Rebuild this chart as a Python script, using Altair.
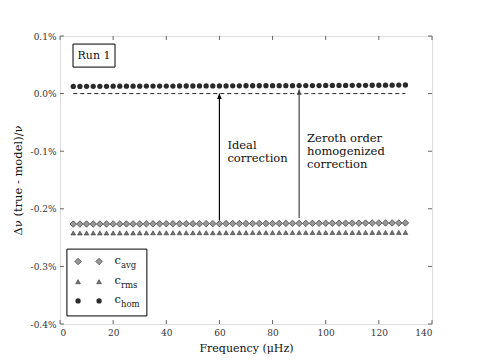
import altair as alt
import pandas as pd

freq = [5, 7.5, 10, 12.5, 15, 17.5, 20, 22.5, 25, 27.5,
        30, 32.5, 35, 37.5, 40, 42.5, 45, 47.5, 50, 52.5,
        55, 57.5, 60, 62.5, 65, 67.5, 70, 72.5, 75, 77.5,
        80, 82.5, 85, 87.5, 90, 92.5, 95, 97.5, 100, 102.5,
        105, 107.5, 110, 112.5, 115, 117.5, 120, 122.5, 125, 127.5, 130]

c_hom = [0.0125, 0.0125, 0.0126, 0.0126, 0.0127, 0.0127, 0.0128, 0.0128, 0.0128, 0.0129,
         0.0129, 0.0130, 0.0130, 0.0130, 0.0131, 0.0131, 0.0132, 0.0132, 0.0132, 0.0133,
         0.0133, 0.0134, 0.0134, 0.0134, 0.0135, 0.0135, 0.0136, 0.0136, 0.0136, 0.0137,
         0.0137, 0.0138, 0.0138, 0.0138, 0.0139, 0.0139, 0.0140, 0.0140, 0.0141, 0.0141,
         0.0142, 0.0142, 0.0143, 0.0143, 0.0144, 0.0145, 0.0145, 0.0146, 0.0147, 0.0148, 0.0149]

c_avg = [-0.2265, -0.2265, -0.2264, -0.2264, -0.2264, -0.2263, -0.2263, -0.2263, -0.2262, -0.2262,
         -0.2262, -0.2261, -0.2261, -0.2261, -0.2260, -0.2260, -0.2260, -0.2259, -0.2259, -0.2259,
         -0.2258, -0.2258, -0.2258, -0.2257, -0.2257, -0.2257, -0.2256, -0.2256, -0.2255, -0.2255,
         -0.2255, -0.2254, -0.2254, -0.2253, -0.2253, -0.2253, -0.2252, -0.2252, -0.2251, -0.2251,
         -0.2250, -0.2250, -0.2249, -0.2249, -0.2248, -0.2248, -0.2247, -0.2247, -0.2246, -0.2246, -0.2245]

c_rms = [-0.2420, -0.2420, -0.2420, -0.2419, -0.2419, -0.2419, -0.2419, -0.2418, -0.2418, -0.2418,
         -0.2418, -0.2417, -0.2417, -0.2417, -0.2417, -0.2416, -0.2416, -0.2416, -0.2416, -0.2415,
         -0.2415, -0.2415, -0.2415, -0.2414, -0.2414, -0.2414, -0.2414, -0.2413, -0.2413, -0.2413,
         -0.2413, -0.2413, -0.2412, -0.2412, -0.2412, -0.2412, -0.2412, -0.2411, -0.2411, -0.2411,
         -0.2411, -0.2411, -0.2411, -0.2410, -0.2410, -0.2410, -0.2410, -0.2410, -0.2410, -0.2410, -0.2410]

x_ticks = [0, 20, 40, 60, 80, 100, 120, 140]
y_ticks = [-0.4, -0.3, -0.2, -0.1, 0.0, 0.1]

# annotations (data coordinates)
arrow_x = [60, 90]
arrow_from = [-0.220, -0.216]
arrow_to = [0.0, 0.007]
arrow_color = ["#000000", "#444444"]
arrow_text = ["Ideal\ncorrection", "Zeroth order\nhomogenized\ncorrection"]
arrow_text_x = [63, 93]
arrow_text_y = [-0.097, -0.0845]

legend_labels = ["c", "c", "c"]
legend_subs = ["avg", "rms", "hom"]
legend_y = [-0.2915, -0.3265, -0.360]
legend_mx = [6.8, 14.7]

FONT = "DejaVu Serif"
W, H = 372, 288

xs = alt.Scale(domain=[0, 140], nice=False, zero=False)
ys = alt.Scale(domain=[-0.4, 0.1], nice=False, zero=False)

xaxis = alt.Axis(values=x_ticks, format="d", domain=False, ticks=False, grid=False,
                 labelFont=FONT, labelFontSize=9, labelColor="#333", labelPadding=4,
                 title="Frequency (μHz)", titleFont=FONT, titleFontSize=11,
                 titleFontWeight="normal", titleColor="#111", titlePadding=5)
yaxis = alt.Axis(values=y_ticks, domain=False, ticks=False, grid=False,
                 labelExpr="(datum.value < -0.00001 ? '-' : '') + format(abs(datum.value), '.1f') + '%'",
                 labelFont=FONT, labelFontSize=9, labelColor="#333", labelPadding=4,
                 title="Δν (true - model)/ν", titleFont=FONT, titleFontSize=11.5,
                 titleFontWeight="normal", titleColor="#111", titlePadding=7)

series = pd.DataFrame({"f": freq, "hom": c_hom, "avg": c_avg, "rms": c_rms})

X = alt.X("f:Q", scale=xs, axis=xaxis)

base = alt.Chart(series)

zero_line = base.mark_line(color="#222", strokeWidth=1, strokeDash=[4, 3]).encode(
    x=X, y=alt.Y("z:Q", scale=ys, axis=yaxis)
).transform_calculate(z="0")

hom_pts = base.mark_point(shape="circle", filled=True, color="#2a2a2a", size=28, opacity=1).encode(
    x=X, y=alt.Y("hom:Q", scale=ys, axis=yaxis))
avg_pts = base.mark_point(shape="diamond", filled=True, fill="#999999", stroke="#333333",
                          strokeWidth=0.7, size=42, opacity=1).encode(
    x=X, y=alt.Y("avg:Q", scale=ys, axis=yaxis))
rms_pts = base.mark_point(shape="triangle-up", filled=True, fill="#777777", stroke="#333333",
                          strokeWidth=0.6, size=22, opacity=1).encode(
    x=X, y=alt.Y("rms:Q", scale=ys, axis=yaxis))

arrows = pd.DataFrame({"x": arrow_x, "y1": arrow_from, "y2": arrow_to, "c": arrow_color})
arrow_lines = alt.Chart(arrows).mark_rule(strokeWidth=1.2).encode(
    x=alt.X("x:Q", scale=xs, axis=xaxis),
    y=alt.Y("y1:Q", scale=ys, axis=yaxis), y2="y2:Q",
    color=alt.Color("c:N", scale=None))
arrow_heads = alt.Chart(arrows).mark_point(shape="M0,0 L-0.9,2 L0.9,2 Z", filled=True,
                                           size=28, opacity=1).encode(
    x=alt.X("x:Q", scale=xs, axis=xaxis),
    y=alt.Y("y2:Q", scale=ys, axis=yaxis),
    color=alt.Color("c:N", scale=None))

texts = pd.DataFrame({"x": arrow_text_x, "y": arrow_text_y, "t": arrow_text})
arrow_texts = alt.Chart(texts).mark_text(align="left", baseline="alphabetic", font=FONT,
                                         fontSize=11.5, lineBreak="\n", lineHeight=12.8,
                                         color="#111").encode(
    x=alt.X("x:Q", scale=xs, axis=xaxis),
    y=alt.Y("y:Q", scale=ys, axis=yaxis),
    text="t:N")

# Run 1 box
run_box = alt.Chart(pd.DataFrame({"x1": [4.9], "x2": [20.7], "y1": [0.086], "y2": [0.046]})).mark_rect(
    fill="white", stroke="black", strokeWidth=1).encode(
    x=alt.X("x1:Q", scale=xs, axis=xaxis), x2="x2:Q",
    y=alt.Y("y1:Q", scale=ys, axis=yaxis), y2="y2:Q")
run_text = alt.Chart(pd.DataFrame({"x": [12.8], "y": [0.066], "t": ["Run 1"]})).mark_text(
    font=FONT, fontSize=11, baseline="middle", align="center", color="#111").encode(
    x=alt.X("x:Q", scale=xs, axis=xaxis),
    y=alt.Y("y:Q", scale=ys, axis=yaxis), text="t:N")

# Legend
leg_box = alt.Chart(pd.DataFrame({"x1": [2.6], "x2": [32.7], "y1": [-0.270], "y2": [-0.386]})).mark_rect(
    fill="white", stroke="black", strokeWidth=1).encode(
    x=alt.X("x1:Q", scale=xs, axis=xaxis), x2="x2:Q",
    y=alt.Y("y1:Q", scale=ys, axis=yaxis), y2="y2:Q")

leg_rows = []
for mx in legend_mx:
    leg_rows.append({"x": mx, "y": legend_y[0], "k": "avg"})
    leg_rows.append({"x": mx, "y": legend_y[1], "k": "rms"})
    leg_rows.append({"x": mx, "y": legend_y[2], "k": "hom"})
leg_df = pd.DataFrame(leg_rows)
leg_avg = alt.Chart(leg_df).transform_filter("datum.k == 'avg'").mark_point(
    shape="diamond", filled=True, fill="#999999", stroke="#333333", strokeWidth=0.7, size=42, opacity=1).encode(
    x=alt.X("x:Q", scale=xs, axis=xaxis), y=alt.Y("y:Q", scale=ys, axis=yaxis))
leg_rms = alt.Chart(leg_df).transform_filter("datum.k == 'rms'").mark_point(
    shape="triangle-up", filled=True, fill="#777777", stroke="#333333", strokeWidth=0.6, size=22, opacity=1).encode(
    x=alt.X("x:Q", scale=xs, axis=xaxis), y=alt.Y("y:Q", scale=ys, axis=yaxis))
leg_hom = alt.Chart(leg_df).transform_filter("datum.k == 'hom'").mark_point(
    shape="circle", filled=True, color="#2a2a2a", size=28, opacity=1).encode(
    x=alt.X("x:Q", scale=xs, axis=xaxis), y=alt.Y("y:Q", scale=ys, axis=yaxis))

lab_df = pd.DataFrame({"x": [20.5] * 3, "y": legend_y, "c": legend_labels, "s": legend_subs})
leg_c = alt.Chart(lab_df).mark_text(font=FONT, fontSize=11.5, align="left", baseline="middle",
                                    dy=-1, color="#111").encode(
    x=alt.X("x:Q", scale=xs, axis=xaxis), y=alt.Y("y:Q", scale=ys, axis=yaxis), text="c:N")
leg_s = alt.Chart(lab_df).mark_text(font=FONT, fontSize=8.5, align="left", baseline="middle",
                                    dx=6.5, dy=3, color="#222").encode(
    x=alt.X("x:Q", scale=xs, axis=xaxis), y=alt.Y("y:Q", scale=ys, axis=yaxis), text="s:N")

# inward ticks
xt = pd.DataFrame({"v": x_ticks})
yt = pd.DataFrame({"v": y_ticks})
tick_color = "#666666"
xb = alt.Chart(xt).mark_rule(color=tick_color, strokeWidth=1).encode(
    x=alt.X("v:Q", scale=xs, axis=xaxis), y=alt.value(H), y2=alt.value(H - 4))
xtp = alt.Chart(xt).mark_rule(color=tick_color, strokeWidth=1).encode(
    x=alt.X("v:Q", scale=xs, axis=xaxis), y=alt.value(0), y2=alt.value(4))
yl = alt.Chart(yt).mark_rule(color=tick_color, strokeWidth=1).encode(
    y=alt.Y("v:Q", scale=ys, axis=yaxis), x=alt.value(0), x2=alt.value(4))
yr = alt.Chart(yt).mark_rule(color=tick_color, strokeWidth=1).encode(
    y=alt.Y("v:Q", scale=ys, axis=yaxis), x=alt.value(W), x2=alt.value(W - 4))

chart = alt.layer(
    zero_line, xb, xtp, yl, yr,
    arrow_lines, arrow_heads,
    rms_pts, avg_pts, hom_pts,
    arrow_texts, run_box, run_text,
    leg_box, leg_avg, leg_rms, leg_hom, leg_c, leg_s,
).properties(
    width=W, height=H,
    autosize=alt.AutoSizeParams(type="none"),
    padding={"left": 52, "top": 28, "right": 40, "bottom": 36},
).configure_view(stroke="#777777", strokeWidth=1.8).configure(background="white")

chart.save("out.html", embed_options={"renderer": "svg", "actions": False})
